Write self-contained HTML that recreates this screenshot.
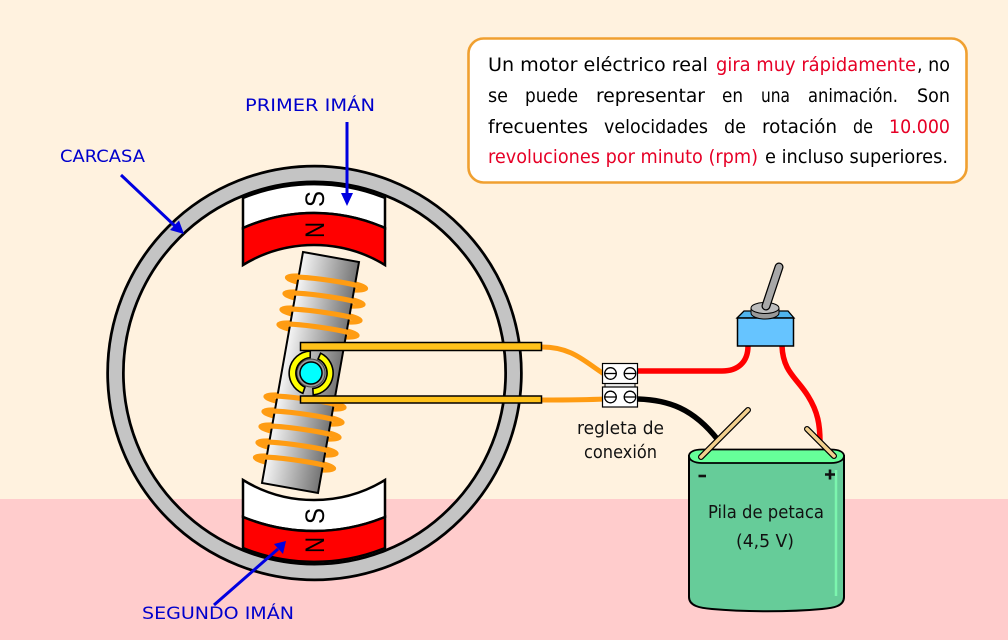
<!DOCTYPE html>
<html>
<head>
<meta charset="utf-8">
<style>
html,body{margin:0;padding:0;background:#FFF2DF}
svg{display:block}
text{font-family:"DejaVu Sans","Liberation Sans",sans-serif}
.t{font-size:19px;fill:#000}
.r{font-size:19px;fill:#E60026}
.b{font-size:17px;fill:#0000CC}
.k{font-size:18px;fill:#111}
.pole{font-family:"Liberation Sans",sans-serif;font-size:27px;fill:#000}
</style>
</head>
<body>
<svg width="1008" height="640" viewBox="0 0 1008 640" xmlns="http://www.w3.org/2000/svg">
<defs>
<linearGradient id="rot2" x1="303" y1="252" x2="359" y2="262" gradientUnits="userSpaceOnUse">
<stop offset="0" stop-color="#F6F6F6"/>
<stop offset="1" stop-color="#757575"/>
</linearGradient>
<ellipse id="cb" cx="0" cy="0" rx="39.5" ry="5" fill="none" stroke="#FF9C12" stroke-width="4.5"/>
<path id="cf" d="M-39.5,0 C-30,-4 30,-4 39.5,0" fill="none" stroke="#FF9C12" stroke-width="5" stroke-linecap="round"/>
</defs>

<rect x="0" y="0" width="1008" height="499" fill="#FFF2DF"/>
<rect x="0" y="499" width="1008" height="141" fill="#FFCCCC"/>

<!-- magnets -->
<path d="M243,198 A189,189 0 0 1 385,198 L385,228 A175,175 0 0 0 243,228 Z" fill="#fff" stroke="#000" stroke-width="2.5"/>
<path d="M243,228 A175,175 0 0 1 385,228 L385,265 A136,136 0 0 0 243,265 Z" fill="#FF0000" stroke="#000" stroke-width="2.5"/>
<path d="M243,480 A136,136 0 0 0 385,480 L385,517 A187,187 0 0 1 243,517 Z" fill="#fff" stroke="#000" stroke-width="2.5"/>
<path d="M243,517 A187,187 0 0 0 385,517 L385,548 A189,189 0 0 1 243,548 Z" fill="#FF0000" stroke="#000" stroke-width="2.5"/>
<text class="pole" transform="translate(324,207) rotate(-90)" textLength="16" lengthAdjust="spacingAndGlyphs">S</text>
<text class="pole" transform="translate(324,238) rotate(-90)" textLength="16" lengthAdjust="spacingAndGlyphs">N</text>
<text class="pole" transform="translate(324,524) rotate(-90)" textLength="16" lengthAdjust="spacingAndGlyphs">S</text>
<text class="pole" transform="translate(324,553) rotate(-90)" textLength="16" lengthAdjust="spacingAndGlyphs">N</text>

<!-- ring -->
<circle cx="314.5" cy="373" r="199" fill="none" stroke="#000" stroke-width="18.5"/>
<circle cx="314.5" cy="373" r="199" fill="none" stroke="#C4C4C4" stroke-width="13"/>

<!-- coils back -->
<use href="#cb" transform="translate(326.5,283) rotate(8)"/>
<use href="#cb" transform="translate(324,299) rotate(8)"/>
<use href="#cb" transform="translate(321,315) rotate(8)"/>
<use href="#cb" transform="translate(318,330) rotate(8)"/>
<use href="#cb" transform="translate(305,402) rotate(8)"/>
<use href="#cb" transform="translate(303,417) rotate(8)"/>
<use href="#cb" transform="translate(300,432) rotate(8)"/>
<use href="#cb" transform="translate(297,448) rotate(8)"/>
<use href="#cb" transform="translate(294.5,463) rotate(8)"/>

<!-- rotor -->
<path d="M303,252 L359,262 L318,493 L262,483 Z" fill="url(#rot2)" stroke="#000" stroke-width="2"/>

<!-- coils front -->
<use href="#cf" transform="translate(326.5,283) rotate(8)"/>
<use href="#cf" transform="translate(324,299) rotate(8)"/>
<use href="#cf" transform="translate(321,315) rotate(8)"/>
<use href="#cf" transform="translate(318,330) rotate(8)"/>
<use href="#cf" transform="translate(305,402) rotate(8)"/>
<use href="#cf" transform="translate(303,417) rotate(8)"/>
<use href="#cf" transform="translate(300,432) rotate(8)"/>
<use href="#cf" transform="translate(297,448) rotate(8)"/>
<use href="#cf" transform="translate(294.5,463) rotate(8)"/>

<!-- commutator -->
<g transform="translate(311,373) rotate(10)">
<circle r="14" fill="#9a9a9a" stroke="#444" stroke-width="1"/>
<path d="M-4.5,-21.5 A22,22 0 0 0 -4.5,21.5 L-3.5,15 A15.5,15.5 0 0 1 -3.5,-15 Z" fill="#FFFF00" stroke="#000" stroke-width="1.6"/>
<path d="M6,-21.2 A22,22 0 0 1 6,21.2 L4.5,15 A15.5,15.5 0 0 0 4.5,-15 Z" fill="#FFFF00" stroke="#000" stroke-width="1.6"/>
<circle r="11" fill="#00FFFF" stroke="#000" stroke-width="1.5"/>
</g>

<!-- orange wires -->
<path d="M542,347 C572,347 585,362 604,374" fill="none" stroke="#FF9C12" stroke-width="5"/>
<path d="M542,400 C565,400 585,400 604,399" fill="none" stroke="#FF9C12" stroke-width="5"/>

<!-- bars -->
<rect x="300.5" y="342.5" width="241" height="8" fill="#FFC21A" stroke="#000" stroke-width="1.5"/>
<rect x="300.5" y="396" width="241" height="7" fill="#FFC21A" stroke="#000" stroke-width="1.5"/>

<!-- wires -->
<path d="M638,371 L722,371 C738,371 748,362 748,346" fill="none" stroke="#FF0000" stroke-width="5.5"/>
<path d="M782,346 C783,372 797,378 808,396 C818,412 820,425 820,442" fill="none" stroke="#FF0000" stroke-width="5.5"/>
<path d="M638,399 C668,400 693,408 718,440" fill="none" stroke="#000" stroke-width="5.5"/>

<!-- regleta -->
<rect x="605" y="381" width="30" height="8" fill="#eee" stroke="#000" stroke-width="1"/>
<rect x="602.5" y="363.5" width="35" height="20" fill="#fff" stroke="#000" stroke-width="1.2"/>
<rect x="602.5" y="387" width="35" height="20" fill="#fff" stroke="#000" stroke-width="1.2"/>
<g fill="#fff" stroke="#000" stroke-width="1.3">
<circle cx="610.5" cy="373.5" r="5.8"/><path d="M604.7,373.5 H616.3"/>
<circle cx="630" cy="373.5" r="5.8"/><path d="M624.2,373.5 H635.8"/>
<circle cx="610.5" cy="397" r="5.8"/><path d="M604.7,397 H616.3"/>
<circle cx="630" cy="397" r="5.8"/><path d="M624.2,397 H635.8"/>
</g>

<!-- switch -->
<path d="M737,318 L744,311 L788,311 L794,318 Z" fill="#4FB4EE" stroke="#000" stroke-width="1.3"/>
<rect x="737.5" y="318" width="56" height="28" fill="#66C4FF" stroke="#000" stroke-width="1.5"/>
<path d="M751,309 V313 A14,6 0 0 0 779,313 V309 Z" fill="#999" stroke="#000" stroke-width="1"/>
<ellipse cx="765" cy="308" rx="14" ry="5.5" fill="#BDBDBD" stroke="#000" stroke-width="1"/>
<path d="M766,306 L779,267" stroke="#000" stroke-width="9" stroke-linecap="round" fill="none"/>
<path d="M766,306 L779,267" stroke="#A8A8A8" stroke-width="6.5" stroke-linecap="round" fill="none"/>

<!-- battery -->
<path d="M689,456 L689,597 C689,606 700,608 712,609 C745,612 790,612 822,609 C834,608 844,606 844,597 L844,456 Z" fill="#66CC99" stroke="#000" stroke-width="2"/>
<path d="M836,470 V596" stroke="#7CF5AE" stroke-width="2.5"/>
<path d="M702,449.5 L831,449.5 C839,449.5 844,452 844,456 C844,460 839,463 831,463 L702,463 C694,463 689,460 689,456 C689,452 694,449.5 702,449.5 Z" fill="#66FF99" stroke="#000" stroke-width="1.8"/>

<!-- terminals -->
<path d="M701,457 L748,410" stroke="#000" stroke-width="6" stroke-linecap="round"/>
<path d="M701,457 L748,410" stroke="#F2D08E" stroke-width="3.6" stroke-linecap="round"/>
<path d="M807,429 L834,456" stroke="#000" stroke-width="6" stroke-linecap="round"/>
<path d="M807,429 L834,456" stroke="#F2D08E" stroke-width="3.6" stroke-linecap="round"/>
<path d="M698.5,476 H706" stroke="#111" stroke-width="2.6"/>
<path d="M825,474.5 H835 M830,469.5 V479.5" stroke="#111" stroke-width="2.6"/>
<text class="k" x="708" y="518" textLength="116" lengthAdjust="spacingAndGlyphs">Pila de petaca</text>
<text class="k" x="736" y="547" textLength="58" lengthAdjust="spacingAndGlyphs">(4,5 V)</text>

<!-- info box -->
<rect x="468.5" y="38.5" width="498" height="144" rx="15" ry="15" fill="#fff" stroke="#F0A030" stroke-width="2.6"/>
<text class="t" x="488" y="71" textLength="220" lengthAdjust="spacingAndGlyphs">Un motor eléctrico real</text>
<text class="r" x="716" y="71" textLength="200" lengthAdjust="spacingAndGlyphs">gira muy rápidamente</text>
<text class="t" x="917" y="71" textLength="33" lengthAdjust="spacingAndGlyphs">, no</text>
<text class="t" x="488" y="102" textLength="20" lengthAdjust="spacingAndGlyphs">se</text>
<text class="t" x="525" y="102" textLength="53" lengthAdjust="spacingAndGlyphs">puede</text>
<text class="t" x="596" y="102" textLength="109" lengthAdjust="spacingAndGlyphs">representar</text>
<text class="t" x="722" y="102" textLength="21" lengthAdjust="spacingAndGlyphs">en</text>
<text class="t" x="761" y="102" textLength="29" lengthAdjust="spacingAndGlyphs">una</text>
<text class="t" x="808" y="102" textLength="90" lengthAdjust="spacingAndGlyphs">animación.</text>
<text class="t" x="917" y="102" textLength="33" lengthAdjust="spacingAndGlyphs">Son</text>
<text class="t" x="488" y="133" textLength="100" lengthAdjust="spacingAndGlyphs">frecuentes</text>
<text class="t" x="604" y="133" textLength="104" lengthAdjust="spacingAndGlyphs">velocidades</text>
<text class="t" x="724" y="133" textLength="22" lengthAdjust="spacingAndGlyphs">de</text>
<text class="t" x="762" y="133" textLength="75" lengthAdjust="spacingAndGlyphs">rotación</text>
<text class="t" x="853" y="133" textLength="20" lengthAdjust="spacingAndGlyphs">de</text>
<text class="r" x="889" y="133" textLength="61" lengthAdjust="spacingAndGlyphs">10.000</text>
<text class="r" x="488" y="163" textLength="270" lengthAdjust="spacingAndGlyphs">revoluciones por minuto (rpm)</text>
<text class="t" x="765" y="163" textLength="183" lengthAdjust="spacingAndGlyphs">e incluso superiores.</text>

<!-- labels -->
<text class="b" x="245" y="111" textLength="130" lengthAdjust="spacingAndGlyphs">PRIMER IMÁN</text>
<text class="b" x="60" y="162" textLength="85" lengthAdjust="spacingAndGlyphs">CARCASA</text>
<text class="b" x="142" y="619" textLength="152" lengthAdjust="spacingAndGlyphs">SEGUNDO IMÁN</text>
<text class="k" x="577" y="434" textLength="87" lengthAdjust="spacingAndGlyphs">regleta de</text>
<text class="k" x="584" y="458" textLength="73" lengthAdjust="spacingAndGlyphs">conexión</text>

<!-- arrows -->
<g stroke="#0000E0" stroke-width="3" fill="#0000E0">
<path d="M347,122 L347,198" fill="none"/>
<path d="M341,193 L353,193 L347,206 Z" stroke="none"/>
<path d="M121,175 L175,226" fill="none"/>
<path d="M170,230 L179,220.5 L184,234 Z" stroke="none"/>
<path d="M214,605 L278,549" fill="none"/>
<path d="M274,544 L283,554 L286,541 Z" stroke="none"/>
</g>
</svg>
</body>
</html>
